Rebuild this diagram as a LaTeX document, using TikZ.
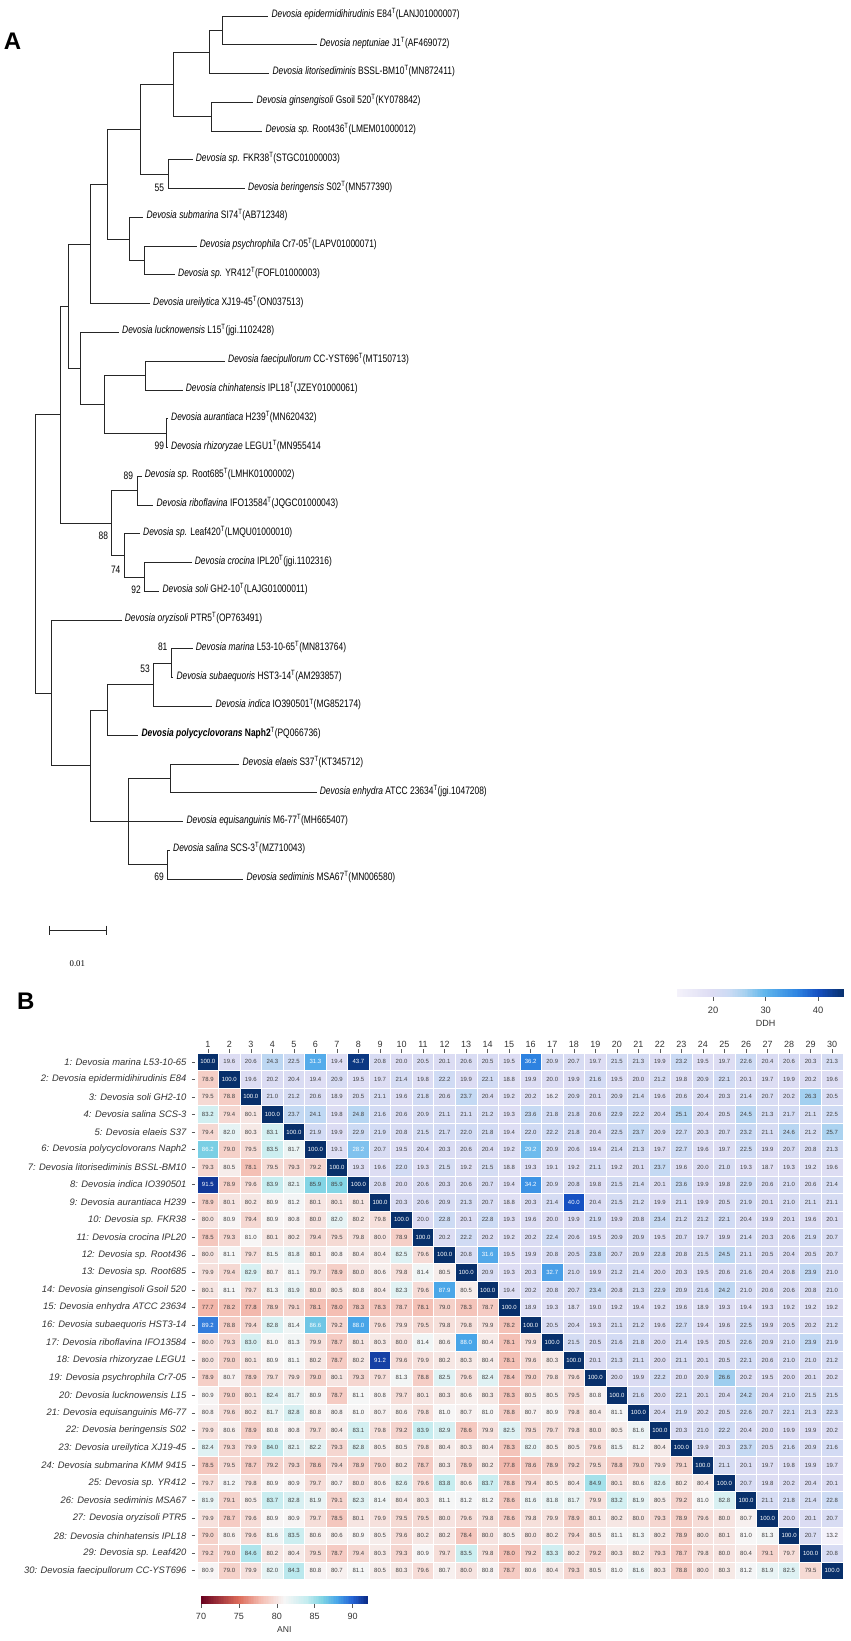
\documentclass[tikz,border=0pt]{standalone}
\usepackage{fontspec}
\setmainfont{Liberation Sans}
\newfontfamily\treefont[FakeStretch=0.78]{Liberation Sans}
\newfontfamily\barfont{Liberation Serif}
\usetikzlibrary{calc}

% ANI colour stops (70 ... 92)
\definecolor{aniA}{HTML}{67001F}
\definecolor{aniB}{HTML}{DC6B5A}
\definecolor{aniC}{HTML}{F4BEB3}
\definecolor{aniD}{HTML}{F7F6F6}
\definecolor{aniE}{HTML}{C4ECEF}
\definecolor{aniF}{HTML}{80D4E4}
\definecolor{aniG}{HTML}{48A5E8}
\definecolor{aniH}{HTML}{2563D4}
\definecolor{aniI}{HTML}{0B2A86}
% DDH colour stops (13 ... 45)
\definecolor{ddhA}{HTML}{F5F3FB}
\definecolor{ddhB}{HTML}{DCDCF3}
\definecolor{ddhC}{HTML}{CCDBF4}
\definecolor{ddhD}{HTML}{A9D2F0}
\definecolor{ddhE}{HTML}{5FB5EC}
\definecolor{ddhF}{HTML}{2E85E2}
\definecolor{ddhG}{HTML}{1550C2}
\definecolor{ddhH}{HTML}{08306B}

\newcommand\typeT{\textsuperscript{T}}

\newcommand\mixcol[5]{%
    \pgfmathsetmacro\cp{max(0,min(100,(#1-#2)/(#3-#2)*100))}%
    \colorlet{cellc}{#5!\cp!#4}}

\newcommand\anicol[1]{%
    \ifdim#1pt<75pt \mixcol{#1}{70}{75}{aniA}{aniB}%
    \else\ifdim#1pt<78pt \mixcol{#1}{75}{78}{aniB}{aniC}%
    \else\ifdim#1pt<81pt \mixcol{#1}{78}{81}{aniC}{aniD}%
    \else\ifdim#1pt<84pt \mixcol{#1}{81}{84}{aniD}{aniE}%
    \else\ifdim#1pt<86pt \mixcol{#1}{84}{86}{aniE}{aniF}%
    \else\ifdim#1pt<88pt \mixcol{#1}{86}{88}{aniF}{aniG}%
    \else\ifdim#1pt<90pt \mixcol{#1}{88}{90}{aniG}{aniH}%
    \else \mixcol{#1}{90}{92}{aniH}{aniI}%
    \fi\fi\fi\fi\fi\fi\fi}

\newcommand\ddhcol[1]{%
    \ifdim#1pt<20pt \mixcol{#1}{13}{20}{ddhA}{ddhB}%
    \else\ifdim#1pt<23pt \mixcol{#1}{20}{23}{ddhB}{ddhC}%
    \else\ifdim#1pt<26pt \mixcol{#1}{23}{26}{ddhC}{ddhD}%
    \else\ifdim#1pt<30pt \mixcol{#1}{26}{30}{ddhD}{ddhE}%
    \else\ifdim#1pt<36pt \mixcol{#1}{30}{36}{ddhE}{ddhF}%
    \else\ifdim#1pt<40pt \mixcol{#1}{36}{40}{ddhF}{ddhG}%
    \else \mixcol{#1}{40}{45}{ddhG}{ddhH}%
    \fi\fi\fi\fi\fi\fi}

% row, column, value
\newcommand\cellcolour[3]{%
    \def\numcol{black!75}%
    \ifnum#1=#2\relax \colorlet{cellc}{ddhH}\def\numcol{white}%
    \else\ifnum#1>#2\relax \anicol{#3}\ifdim#3pt>85.95pt\def\numcol{white}\fi
    \else \ddhcol{#3}\ifdim#3pt>27.95pt\def\numcol{white}\fi
    \fi\fi}

\tikzset{
    branch/.style = {
        draw=black!85,
        line width=0.9pt,
        },
    leaf/.style = {
        anchor=west,
        inner sep=0pt,
        xshift=3pt,
        yshift=2pt,
        font=\treefont\fontsize{10.8}{12}\selectfont,
        },
    boot/.style = {
        inner sep=0pt,
        font=\treefont\fontsize{10.8}{12}\selectfont,
        },
    panel/.style = {
        inner sep=0pt,
        font=\bfseries\fontsize{24}{26}\selectfont,
        },
    rowlab/.style = {
        anchor=east,
        inner sep=0pt,
        text=black!80,
        font=\itshape\fontsize{9.4}{10}\selectfont,
        },
    colnum/.style = {
        inner sep=0pt,
        text=black!80,
        font=\fontsize{9}{10}\selectfont,
        },
    cellnum/.style = {
        inner sep=0pt,
        font=\fontsize{6}{6}\selectfont,
        },
    ticklab/.style = {
        inner sep=0pt,
        text=black!80,
        font=\fontsize{9.3}{10}\selectfont,
        },
    tickline/.style = {
        draw=black!65,
        line width=0.5pt,
        },
}

\begin{document}
\begin{tikzpicture}[x=1pt, y=-1pt]
    \useasboundingbox (0,0) rectangle (851,1641);

    % Panel A: tree
    \node [panel] (pa) at (12.5,41.7) {A};

    % tips
    \coordinate (t1) at (268.3,16);
    \coordinate (t2) at (316.7,44.8);
    \coordinate (t3) at (269.3,73.5);
    \coordinate (t4) at (253.3,102.3);
    \coordinate (t5) at (262.3,131.1);
    \coordinate (t6) at (192.7,159.9);
    \coordinate (t7) at (245,188.6);
    \coordinate (t8) at (143.3,217.4);
    \coordinate (t9) at (196.7,246.2);
    \coordinate (t10) at (175,274.9);
    \coordinate (t11) at (150,303.7);
    \coordinate (t12) at (119,332.5);
    \coordinate (t13) at (225,361.2);
    \coordinate (t14) at (182.7,390.0);
    \coordinate (t15) at (168,418.8);
    \coordinate (t16) at (168,447.6);
    \coordinate (t17) at (141.7,476.3);
    \coordinate (t18) at (153.3,505.1);
    \coordinate (t19) at (140,533.9);
    \coordinate (t20) at (191.7,562.6);
    \coordinate (t21) at (159.3,591.4);
    \coordinate (t22) at (121.7,620.2);
    \coordinate (t23) at (192.7,648.9);
    \coordinate (t24) at (173.3,677.7);
    \coordinate (t25) at (212.3,706.5);
    \coordinate (t26) at (138.3,735.3);
    \coordinate (t27) at (239.3,764.0);
    \coordinate (t28) at (316.7,792.8);
    \coordinate (t29) at (183.3,821.6);
    \coordinate (t30) at (170,850.3);
    \coordinate (t31) at (243.3,879.1);

    % inner nodes
    \coordinate (n1) at (222.7,30.4);
    \coordinate (n2) at (209,52.0);
    \coordinate (n3) at (211.7,116.7);
    \coordinate (n4) at (173.7,84.3);
    \coordinate (n5) at (168.3,174.3);
    \coordinate (n6) at (140,129.3);
    \coordinate (n7) at (144,260.6);
    \coordinate (n8) at (129.3,239.0);
    \coordinate (n9) at (107.3,184.2);
    \coordinate (n10) at (90,244.0);
    \coordinate (n11) at (145.7,375.6);
    \coordinate (n12) at (166.7,433.2);
    \coordinate (n13) at (104.3,404.4);
    \coordinate (n14) at (80,368.5);
    \coordinate (n15) at (68.3,306.2);
    \coordinate (n16) at (137.3,490.7);
    \coordinate (n17) at (144,577.0);
    \coordinate (n18) at (124,555.5);
    \coordinate (n19) at (111,523.1);
    \coordinate (n20) at (60,414.7);
    \coordinate (n21) at (171.7,663.3);
    \coordinate (n22) at (153.3,684.9);
    \coordinate (n23) at (107.7,710.1);
    \coordinate (n24) at (170,778.4);
    \coordinate (n25) at (167.3,864.7);
    \coordinate (n26) at (128.3,821.6);
    \coordinate (n27) at (90,765.9);
    \coordinate (n28) at (51.7,693.0);
    \coordinate (root) at (35.7,553.9);

    % branches
    \draw[branch] (n1) |- (t1) (n1) |- (t2);
    \draw[branch] (n2) |- (n1) (n2) |- (t3);
    \draw[branch] (n3) |- (t4) (n3) |- (t5);
    \draw[branch] (n4) |- (n2) (n4) |- (n3);
    \draw[branch] (n5) |- (t6) (n5) |- (t7);
    \draw[branch] (n6) |- (n4) (n6) |- (n5);
    \draw[branch] (n7) |- (t9) (n7) |- (t10);
    \draw[branch] (n8) |- (t8) (n8) |- (n7);
    \draw[branch] (n9) |- (n6) (n9) |- (n8);
    \draw[branch] (n10) |- (n9) (n10) |- (t11);
    \draw[branch] (n11) |- (t13) (n11) |- (t14);
    \draw[branch] (n12) |- (t15) (n12) |- (t16);
    \draw[branch] (n13) |- (n11) (n13) |- (n12);
    \draw[branch] (n14) |- (t12) (n14) |- (n13);
    \draw[branch] (n15) |- (n10) (n15) |- (n14);
    \draw[branch] (n16) |- (t17) (n16) |- (t18);
    \draw[branch] (n17) |- (t20) (n17) |- (t21);
    \draw[branch] (n18) |- (t19) (n18) |- (n17);
    \draw[branch] (n19) |- (n16) (n19) |- (n18);
    \draw[branch] (n20) |- (n15) (n20) |- (n19);
    \draw[branch] (n21) |- (t23) (n21) |- (t24);
    \draw[branch] (n22) |- (n21) (n22) |- (t25);
    \draw[branch] (n23) |- (n22) (n23) |- (t26);
    \draw[branch] (n24) |- (t27) (n24) |- (t28);
    \draw[branch] (n25) |- (t30) (n25) |- (t31);
    \draw[branch] (n26) |- (n24) (n26) |- (t29) (n26) |- (n25);
    \draw[branch] (n27) |- (n23) (n27) |- (n26);
    \draw[branch] (n28) |- (t22) (n28) |- (n27);
    \draw[branch] (root) |- (n20) (root) |- (n28);

    % leaf labels
    \node[leaf] (l1) at (t1) {\textit{Devosia epidermidihirudinis} E84\typeT(LANJ01000007)};
    \node[leaf] (l2) at (t2) {\textit{Devosia neptuniae} J1\typeT(AF469072)};
    \node[leaf] (l3) at (t3) {\textit{Devosia litorisediminis} BSSL-BM10\typeT(MN872411)};
    \node[leaf] (l4) at (t4) {\textit{Devosia ginsengisoli} Gsoil 520\typeT(KY078842)};
    \node[leaf] (l5) at (t5) {\textit{Devosia sp.} Root436\typeT(LMEM01000012)};
    \node[leaf] (l6) at (t6) {\textit{Devosia sp.} FKR38\typeT(STGC01000003)};
    \node[leaf] (l7) at (t7) {\textit{Devosia beringensis} S02\typeT(MN577390)};
    \node[leaf] (l8) at (t8) {\textit{Devosia submarina} SI74\typeT(AB712348)};
    \node[leaf] (l9) at (t9) {\textit{Devosia psychrophila} Cr7-05\typeT(LAPV01000071)};
    \node[leaf] (l10) at (t10) {\textit{Devosia sp.} YR412\typeT(FOFL01000003)};
    \node[leaf] (l11) at (t11) {\textit{Devosia ureilytica} XJ19-45\typeT(ON037513)};
    \node[leaf] (l12) at (t12) {\textit{Devosia lucknowensis} L15\typeT(jgi.1102428)};
    \node[leaf] (l13) at (t13) {\textit{Devosia faecipullorum} CC-YST696\typeT(MT150713)};
    \node[leaf] (l14) at (t14) {\textit{Devosia chinhatensis} IPL18\typeT(JZEY01000061)};
    \node[leaf] (l15) at (t15) {\textit{Devosia aurantiaca} H239\typeT(MN620432)};
    \node[leaf] (l16) at (t16) {\textit{Devosia rhizoryzae} LEGU1\typeT(MN955414};
    \node[leaf] (l17) at (t17) {\textit{Devosia sp.} Root685\typeT(LMHK01000002)};
    \node[leaf] (l18) at (t18) {\textit{Devosia riboflavina} IFO13584\typeT(JQGC01000043)};
    \node[leaf] (l19) at (t19) {\textit{Devosia sp.} Leaf420\typeT(LMQU01000010)};
    \node[leaf] (l20) at (t20) {\textit{Devosia crocina} IPL20\typeT(jgi.1102316)};
    \node[leaf] (l21) at (t21) {\textit{Devosia soli} GH2-10\typeT(LAJG01000011)};
    \node[leaf] (l22) at (t22) {\textit{Devosia oryzisoli} PTR5\typeT(OP763491)};
    \node[leaf] (l23) at (t23) {\textit{Devosia marina} L53-10-65\typeT(MN813764)};
    \node[leaf] (l24) at (t24) {\textit{Devosia subaequoris} HST3-14\typeT(AM293857)};
    \node[leaf] (l25) at (t25) {\textit{Devosia indica} IO390501\typeT(MG852174)};
    \node[leaf] (l26) at (t26) {\textbf{\textit{Devosia polycyclovorans} Naph2}\typeT(PQ066736)};
    \node[leaf] (l27) at (t27) {\textit{Devosia elaeis} S37\typeT(KT345712)};
    \node[leaf] (l28) at (t28) {\textit{Devosia enhydra} ATCC 23634\typeT(jgi.1047208)};
    \node[leaf] (l29) at (t29) {\textit{Devosia equisanguinis} M6-77\typeT(MH665407)};
    \node[leaf] (l30) at (t30) {\textit{Devosia salina} SCS-3\typeT(MZ710043)};
    \node[leaf] (l31) at (t31) {\textit{Devosia sediminis} MSA67\typeT(MN006580)};

    % bootstrap values
    \node[boot] (b55) at (159.3,188.3) {55};
    \node[boot] (b99) at (159.3,446) {99};
    \node[boot] (b89) at (128.3,476) {89};
    \node[boot] (b88) at (103.3,536) {88};
    \node[boot] (b74) at (115.7,569.3) {74};
    \node[boot] (b92) at (136,590) {92};
    \node[boot] (b81) at (162.7,646.7) {81};
    \node[boot] (b53) at (145,669) {53};
    \node[boot] (b69) at (159,876.7) {69};

    % scale bar
    \coordinate (sbl) at (49.3,930);
    \coordinate (sbr) at (106,930);
    \draw[branch] (sbl) -- (sbr);
    \draw[branch] (sbl) ++(0,-4.5) -- ++(0,9);
    \draw[branch] (sbr) ++(0,-4.5) -- ++(0,9);
    \node [inner sep=0pt, font=\barfont\fontsize{8.8}{10}\selectfont] (sbt) at (77.3,963.3) {0.01};

    % Panel B: heatmap (ANI below, DDH above the diagonal)
    \node [panel] (pb) at (25.8,1001) {B};

    \begin{scope}[shift={(197,1053)}, x=21.53pt, y=-17.55pt]
        \foreach \val [count=\idx] in {%
100.0,19.6,20.6,24.3,22.5,31.3,19.4,43.7,20.8,20.0,20.5,20.1,20.6,20.5,19.5,36.2,20.9,20.7,19.7,21.5,21.3,19.9,23.2,19.5,19.7,22.6,20.4,20.6,20.3,21.3,%
78.9,100.0,19.6,20.2,20.4,19.4,20.9,19.5,19.7,21.4,19.8,22.2,19.9,22.1,18.8,19.9,20.0,19.9,21.6,19.5,20.0,21.2,19.8,20.9,22.1,20.1,19.7,19.9,20.2,19.6,%
79.5,78.8,100.0,21.0,21.2,20.6,18.9,20.5,21.1,19.6,21.8,20.6,23.7,20.4,19.2,20.2,16.2,20.9,20.1,20.9,21.4,19.6,20.6,20.4,20.3,21.4,20.7,20.2,26.3,20.5,%
83.2,79.4,80.1,100.0,23.7,24.1,19.8,24.8,21.6,20.6,20.9,21.1,21.1,21.2,19.3,23.6,21.8,21.8,20.6,22.9,22.2,20.4,25.1,20.4,20.5,24.5,21.3,21.7,21.1,22.5,%
79.4,82.0,80.3,83.1,100.0,21.9,19.9,22.9,21.9,20.8,21.5,21.7,22.0,21.8,19.4,22.0,22.2,21.8,20.4,22.5,23.7,20.9,22.7,20.3,20.7,23.2,21.1,24.6,21.2,25.7,%
86.2,79.0,79.5,83.5,81.7,100.0,19.1,28.2,20.7,19.5,20.4,20.3,20.6,20.4,19.2,29.2,20.9,20.6,19.4,21.4,21.3,19.7,22.7,19.6,19.7,22.5,19.9,20.7,20.8,21.3,%
79.3,80.5,78.1,79.5,79.3,79.2,100.0,19.3,19.6,22.0,19.3,21.5,19.2,21.5,18.8,19.3,19.1,19.2,21.1,19.2,20.1,23.7,19.6,20.0,21.0,19.3,18.7,19.3,19.2,19.6,%
91.5,78.9,79.6,83.9,82.1,85.9,85.9,100.0,20.8,20.0,20.6,20.3,20.6,20.7,19.4,34.2,20.9,20.8,19.8,21.5,21.4,20.1,23.6,19.9,19.8,22.9,20.6,21.0,20.6,21.4,%
78.9,80.1,80.2,80.9,81.2,80.1,80.1,80.1,100.0,20.3,20.6,20.9,21.3,20.7,18.8,20.3,21.4,40.0,20.4,21.5,21.2,19.9,21.1,19.9,20.5,21.9,20.1,21.0,21.1,21.1,%
80.0,80.9,79.4,80.9,80.8,80.0,82.0,80.2,79.8,100.0,20.0,22.8,20.1,22.8,19.3,19.6,20.0,19.9,21.9,19.9,20.8,23.4,21.2,21.2,22.1,20.4,19.9,20.1,19.6,20.1,%
78.5,79.3,81.0,80.1,80.2,79.4,79.5,79.8,80.0,78.9,100.0,20.2,22.2,20.2,19.2,20.2,22.4,20.6,19.5,20.9,20.9,19.5,20.7,19.7,19.9,21.4,20.3,20.6,21.9,20.7,%
80.0,81.1,79.7,81.5,81.8,80.1,80.8,80.4,80.4,82.5,79.6,100.0,20.8,31.6,19.5,19.9,20.8,20.5,23.8,20.7,20.9,22.8,20.8,21.5,24.5,21.1,20.5,20.4,20.5,20.7,%
79.9,79.4,82.9,80.7,81.1,79.7,78.9,80.0,80.6,79.8,81.4,80.5,100.0,20.9,19.3,20.3,32.7,21.0,19.9,21.2,21.4,20.0,20.3,19.5,20.6,21.6,20.4,20.8,23.9,21.0,%
80.1,81.1,79.7,81.3,81.9,80.0,80.5,80.8,80.4,82.3,79.6,87.9,80.5,100.0,19.4,20.2,20.8,20.7,23.4,20.8,21.3,22.9,20.9,21.6,24.2,21.0,20.6,20.6,20.8,21.0,%
77.7,78.2,77.8,78.9,79.1,78.1,78.0,78.3,78.3,78.7,78.1,79.0,78.3,78.7,100.0,18.9,19.3,18.7,19.0,19.2,19.4,19.2,19.6,18.9,19.3,19.4,19.3,19.2,19.2,19.2,%
89.2,78.8,79.4,82.8,81.4,86.6,79.2,88.0,79.6,79.9,79.5,79.8,79.8,79.9,78.2,100.0,20.5,20.4,19.3,21.1,21.2,19.6,22.7,19.4,19.6,22.5,19.9,20.5,20.2,21.2,%
80.0,79.3,83.0,81.0,81.3,79.9,78.7,80.1,80.3,80.0,81.4,80.6,88.0,80.4,78.1,79.9,100.0,21.5,20.5,21.6,21.8,20.0,21.4,19.5,20.5,22.6,20.9,21.0,23.9,21.9,%
80.0,79.0,80.1,80.9,81.1,80.2,78.7,80.2,91.2,79.6,79.9,80.2,80.3,80.4,78.1,79.6,80.3,100.0,20.1,21.3,21.1,20.0,21.1,20.1,20.5,22.1,20.6,21.0,21.0,21.2,%
78.9,80.7,78.9,79.7,79.9,79.0,80.1,79.3,79.7,81.3,78.8,82.5,79.6,82.4,78.4,79.0,79.8,79.6,100.0,20.0,19.9,22.2,20.0,20.9,26.6,20.2,19.5,20.0,20.1,20.2,%
80.9,79.0,80.1,82.4,81.7,80.9,78.7,81.1,80.8,79.7,80.1,80.3,80.6,80.3,78.3,80.5,80.5,79.5,80.8,100.0,21.6,20.0,22.1,20.1,20.4,24.2,20.4,21.0,21.5,21.5,%
80.8,79.6,80.2,81.7,82.8,80.8,80.8,81.0,80.7,80.6,79.8,81.0,80.7,81.0,78.8,80.7,80.9,79.8,80.4,81.1,100.0,20.4,21.9,20.2,20.5,22.6,20.7,22.1,21.3,22.3,%
79.9,80.6,78.9,80.8,80.8,79.7,80.4,83.1,79.8,79.2,83.9,82.9,78.6,79.9,82.5,79.5,79.7,79.8,80.0,80.5,81.6,100.0,20.3,21.0,22.2,20.4,20.0,19.9,19.9,20.2,%
82.4,79.3,79.9,84.0,82.1,82.2,79.3,82.8,80.5,80.5,79.8,80.4,80.3,80.4,78.3,82.0,80.5,80.5,79.6,81.5,81.2,80.4,100.0,19.9,20.3,23.7,20.5,21.6,20.9,21.6,%
78.5,79.5,78.7,79.2,79.3,78.6,79.4,78.9,79.0,80.2,78.7,80.3,78.9,80.2,77.8,78.6,78.9,79.2,79.5,78.8,79.0,79.9,79.1,100.0,21.1,20.1,19.7,19.8,19.9,19.7,%
79.7,81.2,79.8,80.9,80.9,79.7,80.7,80.0,80.6,82.6,79.6,83.8,80.6,83.7,78.8,79.4,80.5,80.4,84.9,80.1,80.6,82.6,80.2,80.4,100.0,20.7,19.8,20.2,20.4,20.1,%
81.9,79.1,80.5,83.7,82.8,81.9,79.1,82.3,81.4,80.4,80.3,81.1,81.2,81.2,78.6,81.6,81.8,81.7,79.9,83.2,81.9,80.5,79.2,81.0,82.8,100.0,21.1,21.8,21.4,22.8,%
79.9,78.7,79.6,80.9,80.9,79.7,78.5,80.1,79.9,79.5,79.5,80.0,79.6,79.8,78.6,79.8,79.9,78.9,80.1,80.2,80.0,79.3,78.9,79.6,80.0,80.7,100.0,20.0,20.1,20.7,%
79.0,80.6,79.6,81.6,83.5,80.6,80.6,80.9,80.5,79.6,80.2,80.2,78.4,80.0,80.5,80.0,80.2,79.4,80.5,81.1,81.3,80.2,78.9,80.0,80.1,81.0,81.3,100.0,20.7,13.2,%
79.2,79.0,84.6,80.2,80.4,79.5,78.7,79.4,80.3,79.3,80.9,79.7,83.5,79.8,78.0,79.2,83.3,80.2,79.2,80.3,80.2,79.3,78.7,79.8,80.0,80.4,79.1,79.7,100.0,20.8,%
80.9,79.0,79.9,82.0,84.3,80.8,80.7,81.1,80.5,80.3,79.6,80.7,80.0,80.8,78.7,80.6,80.4,79.3,80.5,81.0,81.6,80.3,78.8,80.0,80.3,81.2,81.9,82.5,79.5,100.0%
        }{
            \pgfmathtruncatemacro\rw{(\idx-1)/30+1}
            \pgfmathtruncatemacro\cl{\idx-30*(\rw-1)}
            \cellcolour{\rw}{\cl}{\val}
            \filldraw[fill=cellc, draw=white, line width=0.7pt] (\cl-1,\rw-1) rectangle (\cl,\rw);
            \node[cellnum, text=\numcol] (c\rw-\cl) at (\cl-0.5,\rw-0.5) {\val};
        }

        % column numbers
        \foreach \cl in {1,...,30} {
            \node[colnum] (h\cl) at (\cl-0.5,-0.5) {\cl};
            \draw[tickline] (\cl-0.5,-0.02) -- (\cl-0.5,-0.23);
        }

        % row labels
        \foreach \nm [count=\rw] in {Devosia marina L53-10-65,
            Devosia epidermidihirudinis E84,
            Devosia soli GH2-10,
            Devosia salina SCS-3,
            Devosia elaeis S37,
            Devosia polycyclovorans Naph2,
            Devosia litorisediminis BSSL-BM10,
            Devosia indica IO390501,
            Devosia aurantiaca H239,
            Devosia sp. FKR38,
            Devosia crocina IPL20,
            Devosia sp. Root436,
            Devosia sp. Root685,
            Devosia ginsengisoli Gsoil 520,
            Devosia enhydra ATCC 23634,
            Devosia subaequoris HST3-14,
            Devosia riboflavina IFO13584,
            Devosia rhizoryzae LEGU1,
            Devosia psychrophila Cr7-05,
            Devosia lucknowensis L15,
            Devosia equisanguinis M6-77,
            Devosia beringensis S02,
            Devosia ureilytica XJ19-45,
            Devosia submarina KMM 9415,
            Devosia sp. YR412,
            Devosia sediminis MSA67,
            Devosia oryzisoli PTR5,
            Devosia chinhatensis IPL18,
            Devosia sp. Leaf420,
            Devosia faecipullorum CC-YST696}{
            \node[rowlab] (r\rw) at (-0.48,\rw-0.5) {\rw: \nm};
            \draw[tickline] (-0.255,\rw-0.5) -- (-0.07,\rw-0.5);
        }
    \end{scope}

    % DDH colour bar
    \foreach \k in {0,...,99} {
        \pgfmathsetmacro\bv{13.1+(\k+0.5)*0.317}
        \ddhcol{\bv}
        \fill[cellc] ({676.7+\k*1.666},988.6) rectangle ({676.7+(\k+1)*1.666+0.3},997.3);
    }
    \foreach \t/\tx in {20/713, 30/765.7, 40/818} {
        \draw[tickline] (\tx,997.3) -- (\tx,1000.5);
        \node[ticklab] (dt\t) at (\tx,1010) {\t};
    }
    \node[ticklab, font=\fontsize{9}{10}\selectfont] (ddh) at (765.7,1023.3) {DDH};

    % ANI colour bar
    \foreach \k in {0,...,99} {
        \pgfmathsetmacro\bv{70+(\k+0.5)*0.22}
        \anicol{\bv}
        \fill[cellc] ({201+\k*1.667},1595.7) rectangle ({201+(\k+1)*1.667+0.3},1604.3);
    }
    \foreach \t/\tx in {70/201, 75/238.9, 80/276.8, 85/314.7, 90/352.6} {
        \draw[tickline] (\tx,1604.3) -- (\tx,1607.5);
        \node[ticklab, font=\fontsize{9}{10}\selectfont] (at\t) at (\tx,1616.7) {\t};
    }
    \node[ticklab, font=\fontsize{8.6}{10}\selectfont] (ani) at (284.3,1630) {ANI};
\end{tikzpicture}
\end{document}
